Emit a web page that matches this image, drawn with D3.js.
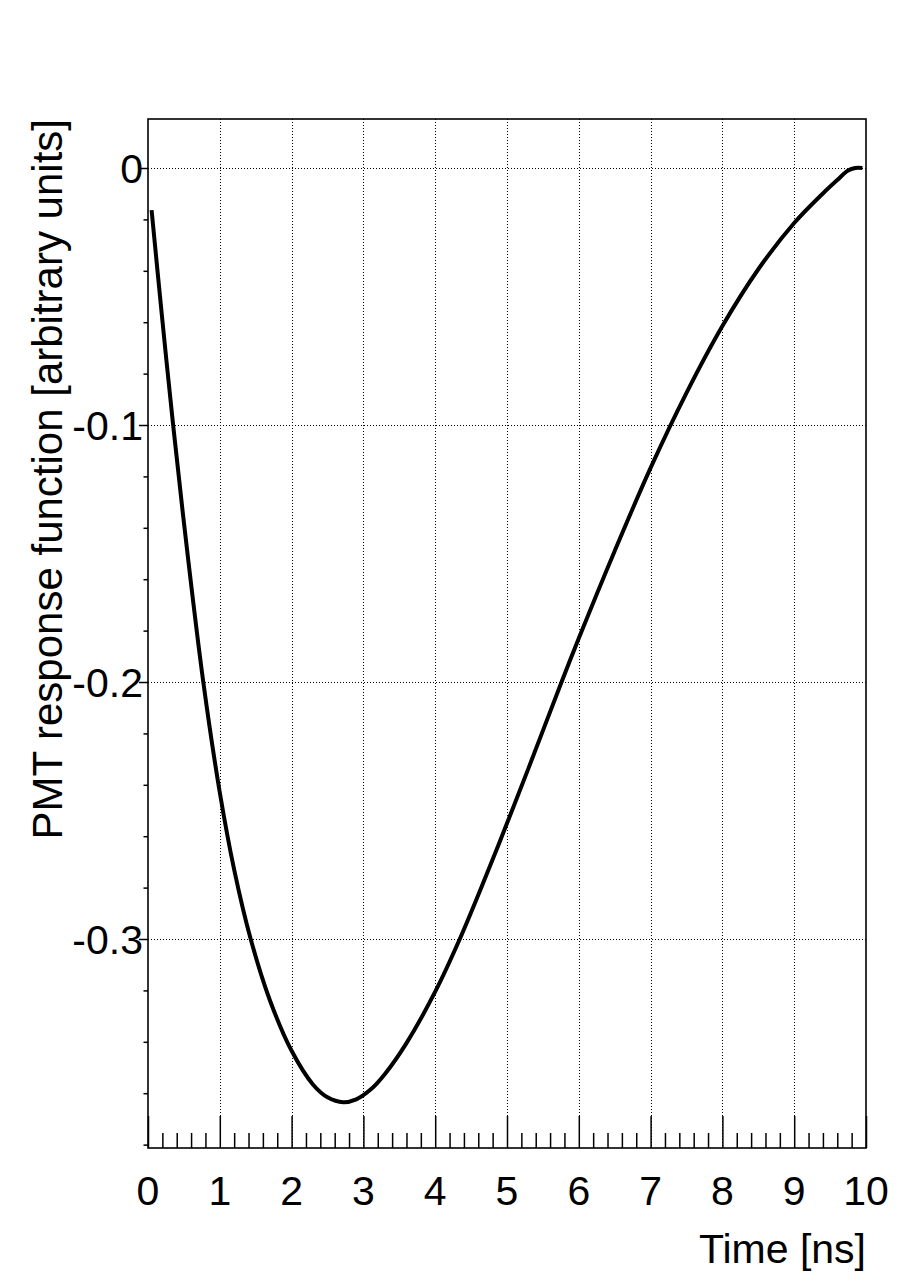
<!DOCTYPE html>
<html>
<head>
<meta charset="utf-8">
<script src="https://cdn.jsdelivr.net/npm/d3@7"></script>
<style>
  html, body { margin: 0; padding: 0; background: #fff; }
  text { font-family: "Liberation Sans", Arial, Helvetica, sans-serif; fill: #000; }
</style>
</head>
<body>
<svg id="chart" width="900" height="1287"></svg>
<script>
// ---- data ----
const timeNs = [0.05, 0.2, 0.35, 0.55, 0.77, 1.0, 1.2, 1.43, 1.7, 2.0, 2.3, 2.5, 2.72, 2.9, 3.1, 3.3, 3.6, 4.0, 4.35, 4.7, 5.0, 5.3, 5.76, 6.0, 6.5, 7.0, 7.5, 8.0, 8.5, 9.0, 9.4, 9.6, 9.75, 9.85, 9.95];
const response = [-0.0164, -0.0592, -0.100, -0.150, -0.200, -0.243, -0.273, -0.300, -0.324, -0.3435, -0.3567, -0.3616, -0.3635, -0.3624, -0.3586, -0.3525, -0.3405, -0.3205, -0.2995, -0.276, -0.255, -0.2335, -0.200, -0.183, -0.149, -0.1167, -0.0875, -0.0615, -0.0394, -0.0214, -0.0099, -0.0047, -0.0010, 0.0, 0.0];
const xTickValues = [0, 1, 2, 3, 4, 5, 6, 7, 8, 9, 10];
const yTickValues = [0, -0.1, -0.2, -0.3];
const yTickLabels = ["0", "-0.1", "-0.2", "-0.3"];
const xTitle = "Time [ns]";
const yTitle = "PMT response function [arbitrary units]";

(function () {
// ---- layout ----
const pLeft = 148, pRight = 866, pTop = 119, pBottom = 1148;
const svg = d3.select("#chart");
const x = d3.scaleLinear().domain([0, 10]).range([pLeft, pRight]);
const y = d3.scaleLinear().domain([-0.38132, 0.01907]).range([pBottom, pTop]);
const fontSize = 41;
const snap = v => Math.round(v) + 0.5;

// grid
const grid = svg.append("g").attr("stroke", "#000").attr("stroke-width", 1)
  .attr("stroke-dasharray", "1,2").attr("shape-rendering", "crispEdges");
grid.selectAll("line.gx").data(xTickValues.filter(v => v > 0 && v < 10)).join("line")
  .attr("class", "gx")
  .attr("x1", d => snap(x(d))).attr("x2", d => snap(x(d))).attr("y1", pTop).attr("y2", pBottom);
grid.selectAll("line.gy").data(yTickValues).join("line")
  .attr("class", "gy")
  .attr("x1", pLeft).attr("x2", pRight).attr("y1", d => snap(y(d))).attr("y2", d => snap(y(d)));

// x axis: ticks pointing inward (up)
const xMinor = d3.range(0, 50).map(i => i * 0.2).filter(v => Math.abs(v - Math.round(v)) > 1e-6);
const xAxisMajor = d3.axisTop(x).tickValues(xTickValues).tickSize(32).tickFormat("");
const xAxisMinor = d3.axisTop(x).tickValues(xMinor).tickSize(15).tickFormat("");
const gxMaj = svg.append("g").attr("transform", `translate(0,${pBottom})`).call(xAxisMajor);
const gxMin = svg.append("g").attr("transform", `translate(0,${pBottom})`).call(xAxisMinor);
[gxMaj, gxMin].forEach(g => {
  g.select(".domain").remove();
  g.selectAll("line").attr("stroke", "#000").attr("stroke-width", 1.5);
});
svg.append("g").selectAll("text").data(xTickValues).join("text")
  .attr("x", d => x(d)).attr("y", 1205).attr("text-anchor", "middle")
  .attr("font-size", fontSize).text(d => d3.format("d")(d));

// y axis: ticks pointing outward (left)
const yMinor = d3.range(0, 20).map(i => -i * 0.02).filter(v => Math.abs(v * 10 - Math.round(v * 10)) > 1e-6 && v >= -0.3813);
const yAxisMajor = d3.axisLeft(y).tickValues(yTickValues).tickSize(9).tickFormat("");
const yAxisMinor = d3.axisLeft(y).tickValues(yMinor).tickSize(4.5).tickFormat("");
const gyMaj = svg.append("g").attr("transform", `translate(${pLeft},0)`).call(yAxisMajor);
const gyMin = svg.append("g").attr("transform", `translate(${pLeft},0)`).call(yAxisMinor);
[gyMaj, gyMin].forEach(g => {
  g.select(".domain").remove();
  g.selectAll("line").attr("stroke", "#000").attr("stroke-width", 1.5);
});
svg.append("g").selectAll("text").data(yTickValues).join("text")
  .attr("x", 143).attr("y", d => y(d) + 15).attr("text-anchor", "end")
  .attr("font-size", fontSize).text((d, i) => yTickLabels[i]);

// frame
svg.append("rect").attr("x", pLeft).attr("y", pTop).attr("width", pRight - pLeft).attr("height", pBottom - pTop)
  .attr("fill", "none").attr("stroke", "#000").attr("stroke-width", 1.6);

// curve
const pts = timeNs.map((t, i) => [t, response[i]]);
svg.append("path").datum(pts)
  .attr("fill", "none").attr("stroke", "#000").attr("stroke-width", 4).attr("stroke-linejoin", "round")
  .attr("d", d3.line().x(d => x(d[0])).y(d => y(d[1])).curve(d3.curveCatmullRom.alpha(0.5)));

// titles
svg.append("text").attr("x", pRight).attr("y", 1263).attr("text-anchor", "end")
  .attr("font-size", fontSize).text(xTitle);
svg.append("text").attr("transform", `translate(62,${pTop}) rotate(-90)`).attr("text-anchor", "end")
  .attr("font-size", 42).text(yTitle);
})();
</script>
</body>
</html>
